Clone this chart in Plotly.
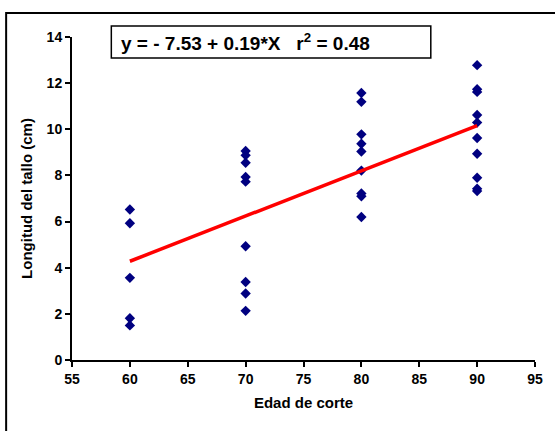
import plotly.graph_objects as go

# Data
edad = [60]*5 + [70]*9 + [80]*9 + [90]*10
longitud = [6.52, 5.93, 3.56, 1.81, 1.50,
            9.06, 8.87, 8.55, 7.93, 7.73, 4.93, 3.38, 2.88, 2.13,
            11.57, 11.19, 9.78, 9.37, 9.04, 8.21, 7.22, 7.10, 6.20,
            12.78, 11.74, 11.62, 10.62, 10.29, 9.62, 8.94, 7.90, 7.42, 7.32]
fit_x = [60, 90]
fit_y = [4.28, 10.16]
x_ticks = [55, 60, 65, 70, 75, 80, 85, 90, 95]
y_ticks = [0, 2, 4, 6, 8, 10, 12, 14]
equation = "y = - 7.53 + 0.19*X   r<sup>2</sup> = 0.48"

W, H = 555, 431
L, R, T, B = 72, 12, 37, 71
pw = W - L - R
ph = H - T - B

fig = go.Figure()
fig.add_trace(go.Scatter(x=edad, y=longitud, mode="markers",
                         marker=dict(symbol="diamond", size=8, color="#000080"),
                         showlegend=False, cliponaxis=False))
fig.add_trace(go.Scatter(x=fit_x, y=fit_y, mode="lines",
                         line=dict(color="#ff0000", width=3.5),
                         showlegend=False))

fam = "Liberation Sans"
tick_font = dict(family=fam, size=14, color="black", weight=700)
title_font = dict(family=fam, size=15, color="black", weight=700)

fig.update_layout(
    width=W, height=H,
    margin=dict(l=L, r=R, t=T, b=B, pad=0),
    paper_bgcolor="white", plot_bgcolor="white",
    font=dict(family=fam, size=14, color="black", weight=700),
    xaxis=dict(range=[55, 95], tickmode="array", tickvals=x_ticks,
               ticktext=[str(v) for v in x_ticks],
               ticks="outside", ticklen=5, tickwidth=2,
               tickcolor="black", showline=True, linecolor="black", linewidth=2,
               showgrid=False, zeroline=False, tickfont=tick_font,
               title=dict(text="Edad de corte", standoff=12, font=title_font)),
    yaxis=dict(range=[0, 14], tickmode="array", tickvals=y_ticks,
               ticktext=[str(v) for v in y_ticks],
               ticks="outside", ticklen=5, tickwidth=2,
               tickcolor="black", showline=True, linecolor="black", linewidth=2,
               showgrid=False, zeroline=False, tickfont=tick_font,
               title=dict(text="Longitud del tallo (cm)", standoff=10, font=title_font)),
)

# outer frame (only left and top edges fall inside the picture)
fig.add_shape(type="rect", xref="paper", yref="paper",
              x0=(5 - L) / pw, x1=(W + 20 - L) / pw,
              y0=-(B + 30) / ph, y1=(H - 13 - B) / ph,
              line=dict(color="black", width=2), fillcolor="rgba(0,0,0,0)", layer="below")

# equation box
fig.add_shape(type="rect", xref="paper", yref="paper",
              x0=(112 - L) / pw, x1=(437 - L) / pw,
              y0=(H - 58 - B) / ph, y1=(H - 26 - B) / ph,
              line=dict(color="black", width=1.5), fillcolor="white")
fig.add_annotation(xref="paper", yref="paper", x=(120 - L) / pw, y=(H - 42 - B) / ph,
                   xanchor="left", yanchor="middle", showarrow=False,
                   text=equation,
                   font=dict(family=fam, size=19, color="black", weight=700))

fig.write_html("out.html")
